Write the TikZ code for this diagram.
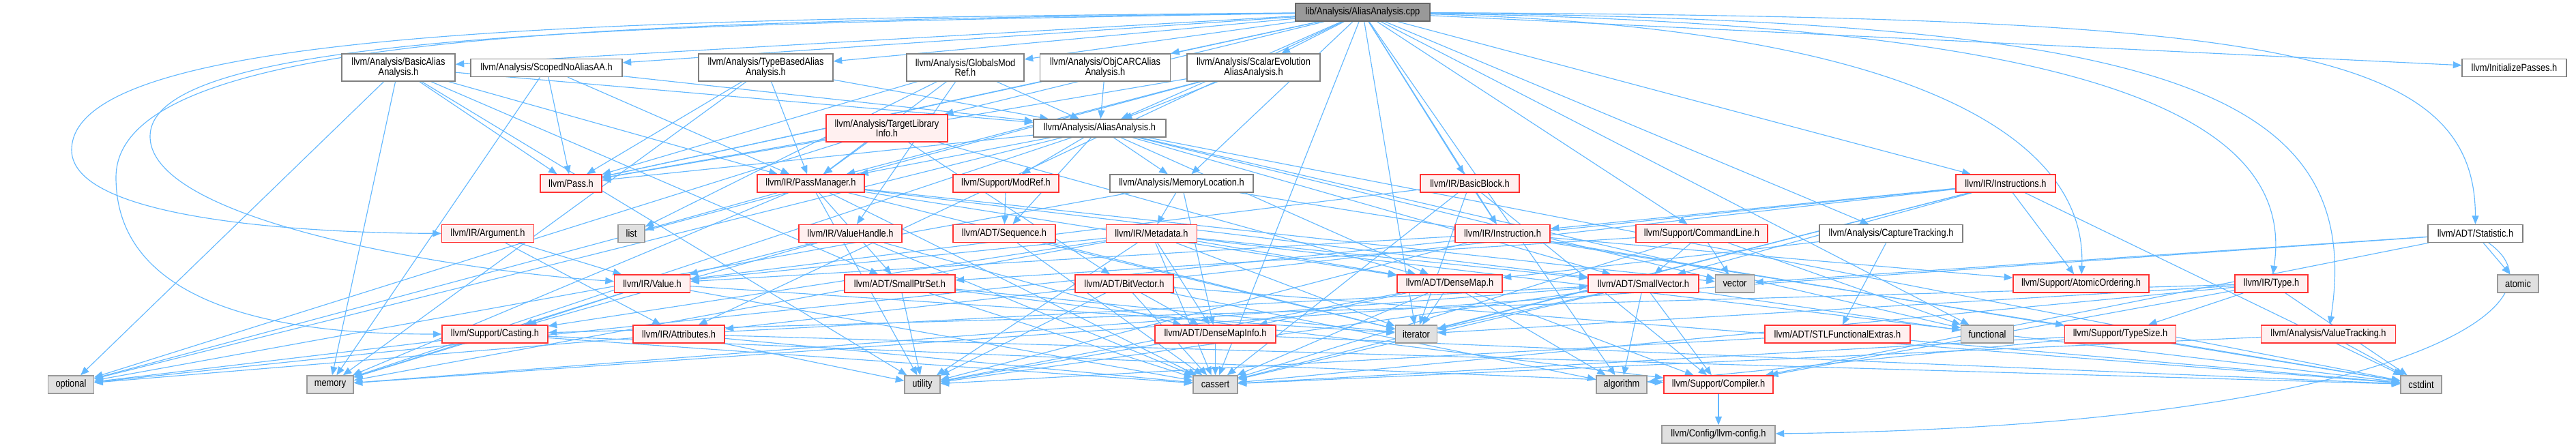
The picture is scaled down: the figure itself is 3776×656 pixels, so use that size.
\documentclass[tikz,border=0pt]{standalone}
\usepackage{fontspec}
\setmainfont{Liberation Sans}[FakeStretch=0.86]
\usetikzlibrary{arrows.meta}
\definecolor{edgec}{HTML}{63B8FF}
\definecolor{redfill}{HTML}{FFF0F0}
\definecolor{redline}{HTML}{FF3333}
\definecolor{grayfill}{HTML}{E0E0E0}
\definecolor{grayline}{HTML}{999999}
\definecolor{rootfill}{HTML}{999999}
\definecolor{rootline}{HTML}{666666}
\definecolor{whiteline}{HTML}{808080}
\newif\ifghost
\newcommand\T[1]{\ifghost\else#1\fi}
\tikzset{
  box/.style={draw, line width=0.8pt, inner sep=0pt, align=center, text=black,
    font=\fontsize{8.5}{8.3}\selectfont, minimum height=0.52cm},
  wd/.style={minimum width=#1*0.02cm},
  tall/.style={minimum height=0.8cm},
  gk/.style={},
  rootbox/.style={box, fill=rootfill, draw=rootline, gk},
  wbox/.style={box, fill=white, draw=whiteline, gk},
  rbox/.style={box, fill=redfill, draw=redline, gk},
  gbox/.style={box, fill=grayfill, draw=grayline, gk},
  e/.style={color=edgec, draw=edgec, line width=0.65pt,
    -{Triangle[length=0.25cm,width=0.2cm,color=edgec]}}
}
\newcommand\allnodes{%
% row 0
\node[rootbox,wd=197] (root) at (1997.5,18) {\T{lib/Analysis/AliasAnalysis.cpp}};
% row 1
\node[wbox,wd=166,tall] (basicaa) at (584,99) {\T{llvm/Analysis/BasicAlias\\Analysis.h}};
\node[wbox,wd=222] (scoped) at (801,99.5) {\T{llvm/Analysis/ScopedNoAliasAA.h}};
\node[wbox,wd=197,tall] (tbaa) at (1122.5,99) {\T{llvm/Analysis/TypeBasedAlias\\Analysis.h}};
\node[wbox,wd=172,tall] (globals) at (1415,99) {\T{llvm/Analysis/GlobalsMod\\Ref.h}};
\node[wbox,wd=191,tall] (objc) at (1620,99) {\T{llvm/Analysis/ObjCARCAlias\\Analysis.h}};
\node[wbox,wd=195,tall] (scev) at (1837.5,99) {\T{llvm/Analysis/ScalarEvolution\\AliasAnalysis.h}};
\node[wbox,wd=153] (initpasses) at (3685.5,99.5) {\T{llvm/InitializePasses.h}};
% row 2
\node[rbox,wd=178,tall] (tli) at (1300,188) {\T{llvm/Analysis/TargetLibrary\\Info.h}};
\node[wbox,wd=194] (aah) at (1612,188) {\T{llvm/Analysis/AliasAnalysis.h}};
% row 3
\node[rbox,wd=90] (pass) at (837,269) {\T{llvm/Pass.h}};
\node[rbox,wd=157] (pm) at (1188.5,269) {\T{llvm/IR/PassManager.h}};
\node[rbox,wd=155] (modref) at (1474.5,269) {\T{llvm/Support/ModRef.h}};
\node[wbox,wd=210] (memloc) at (1732,269) {\T{llvm/Analysis/MemoryLocation.h}};
\node[rbox,wd=145] (bb) at (2154.5,269) {\T{llvm/IR/BasicBlock.h}};
\node[rbox,wd=146] (instrs) at (2940,269) {\T{llvm/IR/Instructions.h}};
% row 4
\node[rbox,wd=135] (argument) at (715,342.5) {\T{llvm/IR/Argument.h}};
\node[gbox,wd=39] (list) at (925.5,342.5) {\T{list}};
\node[rbox,wd=151] (vh) at (1246.5,342.5) {\T{llvm/IR/ValueHandle.h}};
\node[rbox,wd=150] (seq) at (1472,342.5) {\T{llvm/ADT/Sequence.h}};
\node[rbox,wd=133] (metadata) at (1688,342.5) {\T{llvm/IR/Metadata.h}};
\node[rbox,wd=139] (instr) at (2202.5,342.5) {\T{llvm/IR/Instruction.h}};
\node[rbox,wd=193] (cl) at (2494.5,342.5) {\T{llvm/Support/CommandLine.h}};
\node[wbox,wd=210] (capture) at (2772,342.5) {\T{llvm/Analysis/CaptureTracking.h}};
\node[wbox,wd=139] (stat) at (3628.5,342.5) {\T{llvm/ADT/Statistic.h}};
% row 5
\node[rbox,wd=111] (value) at (956,416) {\T{llvm/IR/Value.h}};
\node[rbox,wd=162] (sps) at (1319,416) {\T{llvm/ADT/SmallPtrSet.h}};
\node[rbox,wd=144] (bitvec) at (1648,416) {\T{llvm/ADT/BitVector.h}};
\node[rbox,wd=154] (densemap) at (2125,416) {\T{llvm/ADT/DenseMap.h}};
\node[rbox,wd=162] (smallvec) at (2409,416) {\T{llvm/ADT/SmallVector.h}};
\node[gbox,wd=57] (vector) at (2543,416) {\T{vector}};
\node[rbox,wd=199] (atomicord) at (3050.5,416) {\T{llvm/Support/AtomicOrdering.h}};
\node[rbox,wd=107] (type) at (3329.5,416) {\T{llvm/IR/Type.h}};
\node[gbox,wd=60] (atomic) at (3691,416) {\T{atomic}};
% row 6
\node[rbox,wd=155] (casting) at (725.5,490) {\T{llvm/Support/Casting.h}};
\node[rbox,wd=134] (attrs) at (995,490) {\T{llvm/IR/Attributes.h}};
\node[rbox,wd=177] (dmi) at (1781.5,490) {\T{llvm/ADT/DenseMapInfo.h}};
\node[gbox,wd=61] (iterator) at (2076,490) {\T{iterator}};
\node[rbox,wd=213] (stlfe) at (2693.5,490) {\T{llvm/ADT/STLFunctionalExtras.h}};
\node[gbox,wd=77] (functional) at (2913,490) {\T{functional}};
\node[rbox,wd=163] (typesize) at (3108,490) {\T{llvm/Support/TypeSize.h}};
\node[rbox,wd=197] (vt) at (3413,490) {\T{llvm/Analysis/ValueTracking.h}};
% row 7
\node[gbox,wd=67] (optional) at (104,564) {\T{optional}};
\node[gbox,wd=68] (memory) at (484,564) {\T{memory}};
\node[gbox,wd=52] (utility) at (1352,564) {\T{utility}};
\node[gbox,wd=65] (cassert) at (1781.5,564) {\T{cassert}};
\node[gbox,wd=74] (algorithm) at (2377,564) {\T{algorithm}};
\node[rbox,wd=160] (compiler) at (2519,564) {\T{llvm/Support/Compiler.h}};
\node[gbox,wd=60] (cstdint) at (3549,564) {\T{cstdint}};
% row 8
\node[gbox,wd=166] (config) at (2519,637) {\T{llvm/Config/llvm-config.h}};
}
\begin{document}
\begin{tikzpicture}[x=0.02cm,y=-0.02cm]
\useasboundingbox (0,0) rectangle (3776,656);
% pass 1: invisible nodes, only to define names and borders
\ghosttrue
\tikzset{gk/.style={draw=none,fill=none}}
\allnodes
% connectors
\begin{scope}[color=edgec]
\foreach \src/\dst in {
 root/aah, root/basicaa, root/capture, root/globals, root/memloc, root/objc,
 root/scev, root/scoped, root/tli, root/tbaa, root/attrs, root/bb, root/instr,
 root/instrs, root/initpasses, root/pass, root/cl, root/algorithm, root/cassert,
 root/functional, root/iterator,
 basicaa/sps, basicaa/aah, basicaa/pm, basicaa/pass, basicaa/memory, basicaa/optional, basicaa/utility,
 scoped/aah, scoped/pm, scoped/pass, scoped/memory,
 tbaa/aah, tbaa/pm, tbaa/pass, tbaa/memory,
 globals/aah, globals/pm, globals/vh, globals/pass, globals/list,
 objc/aah, objc/pass,
 scev/aah, scev/pm, scev/pass, scev/optional,
 tli/bitvec, tli/densemap, tli/pm, tli/pass, tli/optional,
 aah/densemap, aah/seq, aah/smallvec, aah/memloc, aah/pm, aah/pass, aah/modref,
 aah/cstdint, aah/functional, aah/memory, aah/optional, aah/vector,
 pm/densemap, pm/sps, pm/smallvec, pm/cassert, pm/iterator, pm/list, pm/memory, pm/utility, pm/vector,
 modref/seq,
 memloc/dmi, memloc/metadata, memloc/typesize, memloc/optional,
 bb/instr, bb/value, bb/compiler, bb/cassert, bb/iterator,
 instrs/smallvec, instrs/attrs, instrs/instr, instrs/atomicord, instrs/cassert,
 instrs/cstdint, instrs/iterator, instrs/optional,
 argument/attrs, argument/value,
 vh/dmi, vh/value, vh/casting, vh/cassert,
 seq/cassert, seq/iterator,
 metadata/densemap, metadata/dmi, metadata/smallvec, metadata/value, metadata/casting,
 metadata/cassert, metadata/cstdint, metadata/iterator, metadata/memory, metadata/utility,
 instr/value, instr/atomicord, instr/cstdint, instr/utility,
 cl/sps, cl/smallvec, cl/cassert, cl/functional, cl/vector,
 capture/densemap, capture/stlfe,
 stat/compiler, stat/atomic, stat/memory, stat/vector,
 value/casting, value/cassert, value/iterator, value/memory,
 sps/compiler, sps/cassert, sps/iterator, sps/utility,
 bitvec/dmi, bitvec/algorithm, bitvec/cassert, bitvec/cstdint, bitvec/utility,
 densemap/dmi, densemap/compiler, densemap/algorithm, densemap/cassert, densemap/iterator, densemap/utility,
 smallvec/compiler, smallvec/algorithm, smallvec/cassert, smallvec/functional,
 smallvec/iterator, smallvec/memory, smallvec/utility,
 type/casting, type/compiler, type/typesize, type/cassert, type/cstdint, type/iterator,
 casting/compiler, casting/cassert, casting/memory, casting/optional,
 attrs/smallvec, attrs/cassert, attrs/cstdint, attrs/optional, attrs/utility,
 dmi/cassert, dmi/cstdint, dmi/utility,
 stlfe/cstdint, stlfe/utility,
 typesize/algorithm, typesize/cassert, typesize/cstdint,
 vt/cassert, vt/cstdint,
 compiler/config}
 {\draw[e] (\src) -- (\dst);}
% long routed connectors from the root
\draw[e] (root) .. controls (900,28) and (105,40) .. (105,220) .. controls (105,330) and (500,342) .. (argument);
\draw[e] (root) .. controls (900,32) and (170,45) .. (170,260) .. controls (170,480) and (500,490) .. (casting);
\draw[e] (root) .. controls (900,36) and (220,50) .. (220,200) .. controls (220,330) and (700,400) .. (value);
\draw[e] (root) .. controls (3300,25) and (3628,60) .. (stat);
\draw[e] (root) .. controls (3150,30) and (3470,120) .. (vt);
\draw[e] (root) .. controls (3000,35) and (3370,150) .. (type);
\draw[e] (root) .. controls (2800,40) and (3060,200) .. (atomicord);
\draw[e] (stat) .. controls (3780,450) and (3500,625) .. (config);
\end{scope}
% pass 2: visible nodes on top
\ghostfalse
\tikzset{gk/.style={}}
\allnodes
\end{tikzpicture}
\end{document}
